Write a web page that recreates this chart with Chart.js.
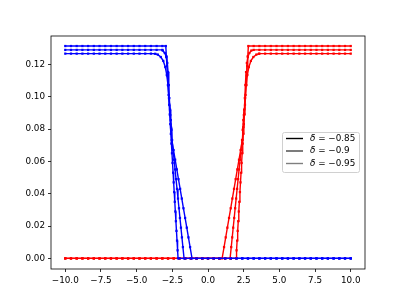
<!DOCTYPE html>
<html><head><meta charset="utf-8">
<script src="https://cdn.jsdelivr.net/npm/chart.js@4.4.1/dist/chart.umd.min.js"></script>
<style>html,body{margin:0;padding:0;background:#fff}#wrap{width:405px;height:303px}</style>
</head><body><div id="wrap"><canvas id="c" width="405" height="303"></canvas></div>
<script>
// grid of sample positions on the flat parts
const xGrid = [-10,-9.6,-9.2,-8.8,-8.4,-8,-7.6,-7.2,-6.8,-6.4,-6,-5.6,-5.2,-4.8,-4.4,-4,-3.6,-3.2,-2.8,-2.4,-2,-1.6,-1.2,-0.8,-0.4,0,0.4,0.8,1.2,1.6,2,2.4,2.8,3.2,3.6,4,4.4,4.8,5.2,5.6,6,6.4,6.8,7.2,7.6,8,8.4,8.8,9.2,9.6,10];
const deltaLabels = ['\u03b4 = \u22120.85', '\u03b4 = \u22120.9', '\u03b4 = \u22120.95'];
const plateau = [0.1313, 0.1289, 0.1266];
// blue (left) transitions: [x, y]
const blueEdge = [
  [[-2.958,0.1313],[-2.917,0.125],[-2.877,0.119],[-2.838,0.113],[-2.799,0.107],[-2.760,0.101],[-2.720,0.095],[-2.681,0.089],[-2.642,0.083],[-2.602,0.077],[-2.563,0.071],[-2.524,0.065],[-2.484,0.059],[-2.445,0.053],[-2.406,0.047],[-2.367,0.041],[-2.327,0.035],[-2.288,0.029],[-2.249,0.023],[-2.209,0.017],[-2.170,0.011],[-2.131,0.005],[-2.098,0.0]],
  [[-3.168,0.1285],[-3.028,0.1270],[-2.923,0.1245],[-2.853,0.1208],[-2.797,0.1152],[-2.748,0.1072],[-2.713,0.0991],[-2.66,0.092],[-2.608,0.0855],[-2.56,0.0795],[-2.517,0.0732],[-2.446,0.067],[-2.377,0.061],[-2.308,0.055],[-2.240,0.049],[-2.171,0.043],[-2.102,0.037],[-2.033,0.031],[-1.965,0.025],[-1.896,0.019],[-1.827,0.013],[-1.758,0.007],[-1.678,0.0]],
  [[-3.70,0.1265],[-3.517,0.1260],[-3.308,0.1245],[-3.133,0.1221],[-2.993,0.1183],[-2.888,0.1134],[-2.804,0.1072],[-2.734,0.0991],[-2.643,0.0886],[-2.59,0.081],[-2.538,0.0732],[-2.418,0.067],[-2.302,0.061],[-2.185,0.055],[-2.069,0.049],[-1.953,0.043],[-1.836,0.037],[-1.720,0.031],[-1.604,0.025],[-1.487,0.019],[-1.371,0.013],[-1.255,0.007],[-1.119,0.0]]
];
// red (right) transitions: [x, y]
const redEdge = [
  [[1.968,0.0],[2.001,0.005],[2.040,0.011],[2.079,0.017],[2.119,0.023],[2.158,0.029],[2.197,0.035],[2.237,0.041],[2.276,0.047],[2.315,0.053],[2.354,0.059],[2.394,0.065],[2.433,0.071],[2.472,0.077],[2.512,0.083],[2.551,0.089],[2.590,0.095],[2.630,0.101],[2.669,0.107],[2.708,0.113],[2.747,0.119],[2.787,0.125],[2.828,0.1313]],
  [[1.548,0.0],[1.628,0.007],[1.697,0.013],[1.766,0.019],[1.835,0.025],[1.903,0.031],[1.972,0.037],[2.041,0.043],[2.110,0.049],[2.178,0.055],[2.247,0.061],[2.316,0.067],[2.387,0.0732],[2.43,0.0795],[2.478,0.0855],[2.53,0.092],[2.583,0.0991],[2.618,0.1072],[2.667,0.1152],[2.723,0.1208],[2.793,0.1245],[2.898,0.1270],[3.038,0.1285]],
  [[0.989,0.0],[1.125,0.007],[1.241,0.013],[1.357,0.019],[1.474,0.025],[1.590,0.031],[1.706,0.037],[1.823,0.043],[1.939,0.049],[2.055,0.055],[2.172,0.061],[2.288,0.067],[2.408,0.0732],[2.46,0.081],[2.513,0.0886],[2.604,0.0991],[2.674,0.1072],[2.758,0.1134],[2.863,0.1183],[3.003,0.1221],[3.178,0.1245],[3.387,0.1260],[3.57,0.1265]]
];
const xTicks = [-10,-7.5,-5,-2.5,0,2.5,5,7.5,10];
const yTicks = [0,0.02,0.04,0.06,0.08,0.10,0.12];
const legendColors = ['#000000','#444444','#7f7f7f'];

function blueSeries(i){
  const e = blueEdge[i], x0 = e[0][0], x1 = e[e.length-1][0];
  return xGrid.filter(x=>x<x0).map(x=>({x:x,y:plateau[i]}))
    .concat(e.map(p=>({x:p[0],y:p[1]})))
    .concat(xGrid.filter(x=>x>x1).map(x=>({x:x,y:0})));
}
function redSeries(i){
  const e = redEdge[i], x0 = e[0][0], x1 = e[e.length-1][0];
  return xGrid.filter(x=>x<x0).map(x=>({x:x,y:0}))
    .concat(e.map(p=>({x:p[0],y:p[1]})))
    .concat(xGrid.filter(x=>x>x1).map(x=>({x:x,y:plateau[i]})));
}
const datasets = [];
for (let i=0;i<3;i++){
  datasets.push({data:blueSeries(i),borderColor:'#0000ff',backgroundColor:'#0000ff',borderWidth:1.4,pointRadius:1.6,pointBorderWidth:0,pointStyle:'rect',showLine:true,tension:0});
  datasets.push({data:redSeries(i),borderColor:'#ff0000',backgroundColor:'#ff0000',borderWidth:1.4,pointRadius:1.6,pointBorderWidth:0,pointStyle:'rect',showLine:true,tension:0});
}
const fmt = v => v.toString().replace('-', '\u2212');
const frame = {
  id:'frame',
  afterDatasetsDraw(chart){
    const {ctx, chartArea:a} = chart;
    ctx.save();
    ctx.strokeStyle='#000'; ctx.lineWidth=0.8;
    ctx.strokeRect(a.left, a.top, a.right-a.left, a.bottom-a.top);
    // legend
    const lx=282.5, ly=132.5, lw=77, lh=40;
    ctx.fillStyle='rgba(255,255,255,0.8)';
    ctx.strokeStyle='#d0d0d0'; ctx.lineWidth=1;
    ctx.beginPath();
    if (ctx.roundRect) ctx.roundRect(lx,ly,lw,lh,2); else ctx.rect(lx,ly,lw,lh);
    ctx.fill(); ctx.stroke();
    for (let i=0;i<3;i++){
      const yy = 138.5 + i*12.5;
      ctx.strokeStyle=legendColors[i]; ctx.lineWidth=1.4;
      ctx.beginPath(); ctx.moveTo(286,yy); ctx.lineTo(303,yy); ctx.stroke();
      ctx.fillStyle='#000'; ctx.textBaseline='middle';
      const parts = deltaLabels[i].split(' = ');
      ctx.font='italic 8.8px "DejaVu Sans"';
      ctx.fillText(parts[0], 310, yy);
      const w = ctx.measureText(parts[0]).width;
      ctx.font='8.8px "DejaVu Sans"';
      ctx.fillText(' = ' + parts[1], 310+w, yy);
    }
    ctx.restore();
  }
};
new Chart(document.getElementById('c'), {
  type:'scatter',
  data:{datasets:datasets},
  options:{
    responsive:false, animation:false, devicePixelRatio:1,
    layout:{padding:{left:0,top:36,right:40,bottom:0}},
    plugins:{legend:{display:false},tooltip:{enabled:false}},
    scales:{
      x:{type:'linear',min:-11,max:11,
        afterBuildTicks(s){s.ticks = xTicks.map(v=>({value:v}));},
        afterFit(s){s.height=34;},
        grid:{drawOnChartArea:false,drawTicks:true,tickLength:3,color:'#000',tickWidth:0.8},
        border:{display:false},
        ticks:{color:'#000',font:{family:'DejaVu Sans',size:8.8},padding:3,maxRotation:0,autoSkip:false,
          callback:v=>fmt(Number(v).toFixed(1))}},
      y:{type:'linear',min:-0.00655,max:0.1375,
        afterBuildTicks(s){s.ticks = yTicks.map(v=>({value:v}));},
        afterFit(s){s.width=51;},
        grid:{drawOnChartArea:false,drawTicks:true,tickLength:3,color:'#000',tickWidth:0.8},
        border:{display:false},
        ticks:{color:'#000',font:{family:'DejaVu Sans',size:8.8},padding:3,autoSkip:false,
          callback:v=>Number(v).toFixed(2)}}
    }
  },
  plugins:[frame]
});
</script></body></html>
